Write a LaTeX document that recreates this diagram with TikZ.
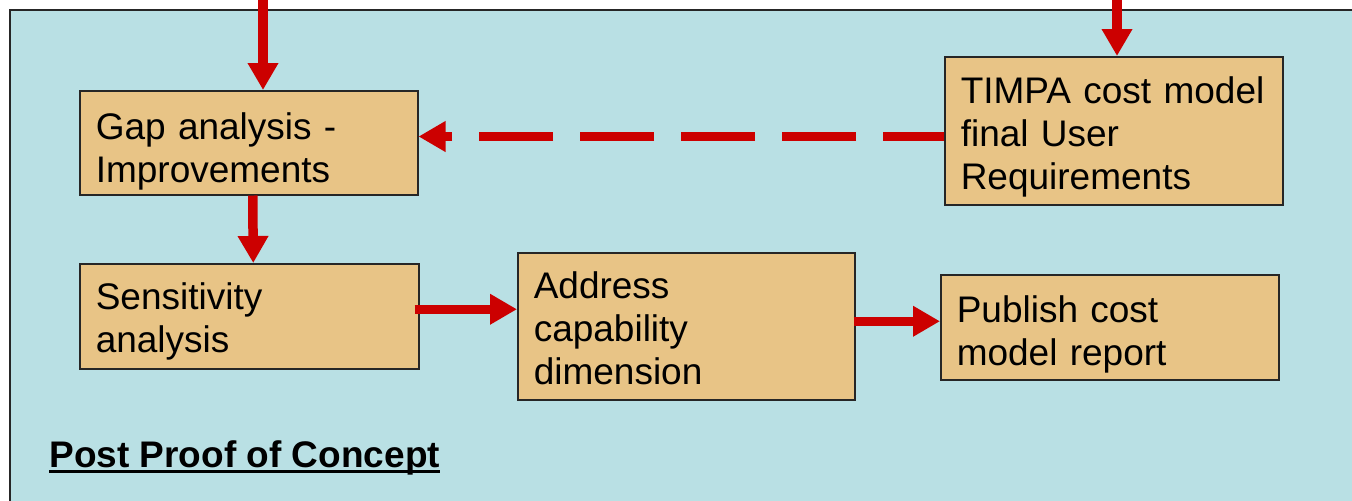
\documentclass[tikz,border=0pt]{standalone}
\usepackage{fontspec}
\setmainfont{Liberation Sans}
\usetikzlibrary{arrows.meta}
\definecolor{bgblue}{RGB}{185,224,228}
\definecolor{taskfill}{RGB}{232,196,134}
\definecolor{flowred}{RGB}{204,0,0}
\tikzset{
	task/.style={draw=black!85, line width=0.75pt, fill=taskfill, anchor=north west,
		inner xsep=8pt, inner ysep=0pt, align=left,
		font=\fontsize{18.5pt}{21.5pt}\selectfont},
	flow/.style={draw=flowred, line width=4.75pt, -{Triangle[length=13.5pt,width=14.5pt]}},
	dashflow/.style={flow, dash pattern=on 37pt off 13.5pt, dash phase=6.5pt}
}
\begin{document}
\begin{tikzpicture}[x=0.5pt,y=-0.5pt]
	\useasboundingbox (0,0) rectangle (1352,500);
	\fill[white] (0,0) rectangle (1352,500);
	\draw[fill=bgblue, draw=black!85, line width=1pt] (10,10) rectangle (1370,520);
	% boxes
	\node[task, text width=153pt, text height=24.5pt, text depth=27.5pt] (gap) at (79,90) {Gap analysis -\\Improvements};
	\node[task, text width=153pt, text height=23.5pt, text depth=50.5pt] (timpa) at (944,56) {TIMPA cost model\\final User\\Requirements};
	\node[task, text width=153.5pt, text height=23pt, text depth=29.5pt] (sens) at (79,263) {Sensitivity\\analysis};
	\node[task, text width=152.5pt, text height=23pt, text depth=50.5pt] (addr) at (517,252) {Address\\capability\\dimension};
	\node[task, text width=153pt, text height=24pt, text depth=28.5pt] (publ) at (940,274) {Publish cost\\model report};
	\node[anchor=base west, inner sep=0pt, font=\fontsize{18.5pt}{21.5pt}\selectfont\bfseries] (title) at (49,467) {Post Proof of Concept};
	\draw[line width=1.25pt] ([yshift=-2.25pt]title.base west) -- ([yshift=-2.25pt]title.base east);
	% arrows
	\coordinate (inL) at (263,0);
	\coordinate (inR) at (1117,0);
	\coordinate (sensout) at ([shift={(-5,-7)}]sens.east);
	\coordinate (addrout) at ([shift={(-2,-5)}]addr.east);
	\draw[flow] (inL) -- (inL |- gap.north);
	\draw[flow] (inR) -- (inR |- timpa.north);
	\draw[dashflow] (timpa.west |- 0,136.5) -- (gap.east |- 0,136.5);
	\draw[flow] ([xshift=2pt]gap.south) -- ([xshift=2pt]sens.north);
	\draw[flow] (sensout) -- (addr.west |- sensout);
	\draw[flow] (addrout) -- (publ.west |- addrout);
\end{tikzpicture}
\end{document}
